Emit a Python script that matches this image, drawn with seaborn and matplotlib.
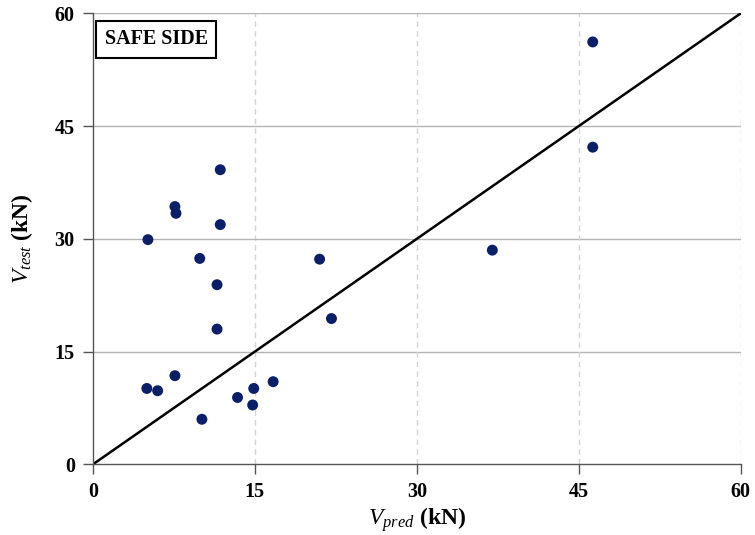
import matplotlib
matplotlib.use("Agg")
import matplotlib.pyplot as plt
import seaborn as sns
import pandas as pd

v_pred = [11.8, 7.6, 7.7, 11.8, 5.1, 9.9, 21.0, 11.5, 22.1, 11.5, 7.6, 5.0, 6.0,
          16.7, 14.9, 13.4, 14.8, 10.1, 46.3, 46.3, 37.0]
v_test = [39.2, 34.3, 33.4, 31.9, 29.9, 27.4, 27.3, 23.9, 19.4, 18.0, 11.8, 10.1, 9.8,
          11.0, 10.1, 8.9, 7.9, 6.0, 56.2, 42.2, 28.5]
ticks = [0, 15, 30, 45, 60]
ref_line = [0, 60]

sns.set_theme(style="white")
plt.rcParams['font.family'] = ['Liberation Serif', 'DejaVu Serif']
plt.rcParams['mathtext.fontset'] = 'custom'
plt.rcParams['mathtext.rm'] = 'Liberation Serif:bold'
plt.rcParams['mathtext.it'] = 'Liberation Serif:italic'
plt.rcParams['mathtext.bf'] = 'Liberation Serif:bold'
plt.rcParams['text.color'] = 'black'
plt.rcParams['axes.labelcolor'] = 'black'
plt.rcParams['xtick.color'] = 'black'
plt.rcParams['ytick.color'] = 'black'

df = pd.DataFrame({"pred": v_pred, "test": v_test})

fig = plt.figure(figsize=(7.55, 5.35), dpi=100)
ax = fig.add_axes([0.123, 0.132, 0.858, 0.843])

for t in ticks[1:]:
    ax.axhline(t, color='#b4b4b4', lw=1.0, zorder=0)
    ax.axvline(t, color='#d4d4d4', lw=1.0, ls=(0, (4, 3)), zorder=0)

ax.plot(ref_line, ref_line, color='black', lw=1.8, zorder=2)
sns.scatterplot(data=df, x="pred", y="test", ax=ax, color='#0b1f66', s=62,
                edgecolor='none', zorder=3)

ax.set_xlim(0, 60)
ax.set_ylim(0, 60)
ax.set_xticks(ticks)
ax.set_yticks(ticks)
for lab in ax.get_xticklabels() + ax.get_yticklabels():
    lab.set_fontweight('bold')
    lab.set_fontsize(14.5)
ax.tick_params(axis='both', direction='out', length=7, width=1, color='#555555',
               bottom=True, left=True)
ax.tick_params(axis='x', pad=6)
ax.tick_params(axis='y', pad=6)

for s in ['top', 'right']:
    ax.spines[s].set_visible(False)
for s in ['left', 'bottom']:
    ax.spines[s].set_color('#555555')
    ax.spines[s].set_linewidth(1.0)

ax.set_xlabel(r'$V_{pred}$ (kN)', fontsize=17, fontweight='bold', labelpad=2)
ax.set_ylabel(r'$V_{test}$ (kN)', fontsize=17, fontweight='bold', labelpad=14)

ax.text(0.0185, 0.965, 'SAFE SIDE', transform=ax.transAxes, fontsize=14.5,
        fontweight='bold', va='top', ha='left',
        bbox=dict(boxstyle='square,pad=0.42', fc='white', ec='black', lw=1.5))

fig.savefig('out.png', dpi=100)
